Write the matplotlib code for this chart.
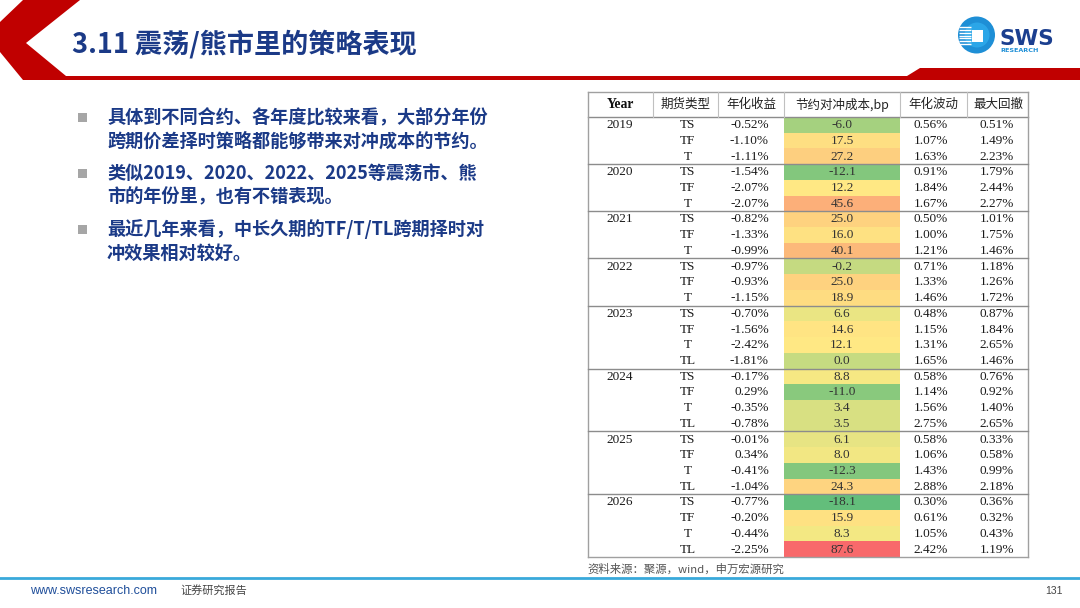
import numpy as np
import matplotlib
matplotlib.use("Agg")
import matplotlib.pyplot as plt
from matplotlib.patches import Polygon, Rectangle, Circle
from matplotlib.colors import LinearSegmentedColormap, TwoSlopeNorm

plt.rcParams['font.family'] = ['Noto Sans CJK SC', 'DejaVu Sans']

# ---------------- data ----------------
title = "3.11 震荡/熊市里的策略表现"
bullets = [
    ["具体到不同合约、各年度比较来看，大部分年份", "跨期价差择时策略都能够带来对冲成本的节约。"],
    ["类似2019、2020、2022、2025等震荡市、熊", "市的年份里，也有不错表现。"],
    ["最近几年来看，中长久期的TF/T/TL跨期择时对", "冲效果相对较好。"],
]
headers = ["Year", "期货类型", "年化收益", "节约对冲成本,bp", "年化波动", "最大回撤"]
years = ["2019", "2020", "2021", "2022", "2023", "2024", "2025", "2026"]
contracts_per_year = [["TS", "TF", "T"]] * 4 + [["TS", "TF", "T", "TL"]] * 4
ann_ret = [-0.52, -1.10, -1.11, -1.54, -2.07, -2.07, -0.82, -1.33, -0.99,
           -0.97, -0.93, -1.15, -0.70, -1.56, -2.42, -1.81, -0.17, 0.29,
           -0.35, -0.78, -0.01, 0.34, -0.41, -1.04, -0.77, -0.20, -0.44, -2.25]
saving_bp = [-6.0, 17.5, 27.2, -12.1, 12.2, 45.6, 25.0, 16.0, 40.1,
             -0.2, 25.0, 18.9, 6.6, 14.6, 12.1, 0.0, 8.8, -11.0,
             3.4, 3.5, 6.1, 8.0, -12.3, 24.3, -18.1, 15.9, 8.3, 87.6]
ann_vol = [0.56, 1.07, 1.63, 0.91, 1.84, 1.67, 0.50, 1.00, 1.21,
           0.71, 1.33, 1.46, 0.48, 1.15, 1.31, 1.65, 0.58, 1.14,
           1.56, 2.75, 0.58, 1.06, 1.43, 2.88, 0.30, 0.61, 1.05, 2.42]
max_dd = [0.51, 1.49, 2.23, 1.79, 2.44, 2.27, 1.01, 1.75, 1.46,
          1.18, 1.26, 1.72, 0.87, 1.84, 2.65, 1.46, 0.76, 0.92,
          1.40, 2.65, 0.33, 0.58, 0.99, 2.18, 0.36, 0.32, 0.43, 1.19]
source = "资料来源：聚源，wind，申万宏源研究"
footer_url = "www.swsresearch.com"
footer_label = "证券研究报告"
page_no = "131"

# ---------------- figure ----------------
W, H = 1080, 608
fig = plt.figure(figsize=(W / 100, H / 100), dpi=100)
ax = fig.add_axes([0, 0, 1, 1])
ax.set_xlim(0, W)
ax.set_ylim(H, 0)
ax.axis('off')

RED = '#C00000'
NAVY = '#1B3A87'

# header band with chevron
ax.add_patch(Polygon([(23, 0), (80, 0), (26, 43), (66, 76), (907, 76), (920, 68),
                      (1080, 68), (1080, 80), (23, 80), (0, 52), (0, 22)],
                     closed=True, fc=RED, ec='none'))
ax.text(72, 44, title, fontsize=19.5, fontweight='bold', color=NAVY, va='center', ha='left')

# logo
ax.add_patch(Circle((976.5, 35), 18.5, fc='#1E8FD6', ec='none'))
ax.add_patch(Circle((977, 35), 12.5, fc='#2BA6E8', ec='none'))
ax.add_patch(Rectangle((972, 29.5), 11, 12, fc='white', ec='none'))
for yy in np.linspace(27, 44, 7):
    ax.plot([959, 971], [yy, yy], color='white', lw=1.0, solid_capstyle='butt')
ax.text(999.5, 45, "SWS", fontsize=15.5, fontweight='bold', color='#1B3F8F',
        ha='left', va='baseline', family=['DejaVu Sans'])
ax.text(1000.5, 50, "RESEARCH", fontsize=4.6, fontweight='bold', color='#1E8FD6',
        ha='left', va='center', family=['DejaVu Sans'])

# bullets
by = 117
for lines in bullets:
    ax.add_patch(Rectangle((78, by - 4.5), 9, 9, fc='#A6A6A6', ec='none'))
    for j, ln in enumerate(lines):
        ax.text(107, by + j * 24, ln, fontsize=13.1, fontweight='bold', color=NAVY,
                ha='left', va='center')
    by += 56

# ---------------- table ----------------
rows_year, rows_con = [], []
for y, cons in zip(years, contracts_per_year):
    for i, c in enumerate(cons):
        rows_year.append(y if i == 0 else "")
        rows_con.append(c)
n = len(rows_con)

tx0, tx1 = 588, 1028
ty0 = 92
head_h = 25
row_h = 15.72
col_edges = [588, 653, 718, 784, 900, 967, 1028]
row_top = ty0 + head_h
edges = row_top + np.arange(n + 1) * row_h
ty1 = edges[-1]

cmap = LinearSegmentedColormap.from_list('rdylgn_xl', ['#63BE7B', '#FFEB84', '#F8696B'])
norm = TwoSlopeNorm(vmin=min(saving_bp), vcenter=float(np.median(saving_bp)), vmax=max(saving_bp))
X, Y = np.meshgrid([col_edges[3], col_edges[4]], edges)
ax.pcolormesh(X, Y, np.array(saving_bp).reshape(-1, 1), cmap=cmap, norm=norm,
              shading='flat', edgecolors='none', zorder=1)

# lines
LC = '#8C8C8C'
ax.plot([tx0, tx1], [ty0, ty0], color='#A0A0A0', lw=1.0, zorder=3)
ax.plot([tx0, tx1], [row_top, row_top], color=LC, lw=1.0, zorder=3)
ax.plot([tx0, tx1], [ty1, ty1], color='#A0A0A0', lw=1.0, zorder=3)
ax.plot([tx0, tx0], [ty0, ty1], color='#A0A0A0', lw=1.0, zorder=3)
ax.plot([tx1, tx1], [ty0, ty1], color='#A0A0A0', lw=1.0, zorder=3)
for xe in col_edges[1:-1]:
    ax.plot([xe, xe], [ty0, row_top], color='#C0C0C0', lw=0.8, zorder=3)
k = 0
for cons in contracts_per_year[:-1]:
    k += len(cons)
    ax.plot([tx0, tx1], [edges[k], edges[k]], color=LC, lw=1.0, zorder=3)

# headers
hy = ty0 + head_h / 2
hx = [620, 686, 751, 842, 933, 998]
for i, (x, h) in enumerate(zip(hx, headers)):
    if i == 0:
        ax.text(x, hy, h, fontsize=9.8, fontweight='bold', family=['Liberation Serif'],
                ha='center', va='center', color='#111111', zorder=4)
    else:
        ax.text(x, hy, h, fontsize=9, ha='center', va='center', color='#222222', zorder=4)

SERIF = ['Liberation Serif']
TC = '#1A1A1A'
FS = 9.5
for r in range(n):
    yc = (edges[r] + edges[r + 1]) / 2 + 0.3
    if rows_year[r]:
        ax.text(620, yc, rows_year[r], fontsize=FS, family=SERIF, ha='center', va='center', color=TC, zorder=4)
    ax.text(688, yc, rows_con[r], fontsize=FS, family=SERIF, ha='center', va='center', color=TC, zorder=4)
    ax.text(769, yc, f"{ann_ret[r]:.2f}%", fontsize=FS, family=SERIF, ha='right', va='center', color=TC, zorder=4)
    ax.text(842, yc, f"{saving_bp[r]:.1f}", fontsize=FS, family=SERIF, ha='center', va='center', color='#333333', zorder=4)
    ax.text(948, yc, f"{ann_vol[r]:.2f}%", fontsize=FS, family=SERIF, ha='right', va='center', color=TC, zorder=4)
    ax.text(1014, yc, f"{max_dd[r]:.2f}%", fontsize=FS, family=SERIF, ha='right', va='center', color=TC, zorder=4)

# source
ax.text(587, 569, source, fontsize=8.2, color='#555555', ha='left', va='center')

# footer
ax.plot([0, W], [577.5, 577.5], color='#39A9DB', lw=2.0)
ax.text(30, 591, footer_url, fontsize=9, color='#1F4E9A', ha='left', va='center', family=['Liberation Sans'])
ax.text(180, 590, footer_label, fontsize=8, color='#444444', ha='left', va='center')
ax.text(1063, 591, page_no, fontsize=7.5, color='#444444', ha='right', va='center', family=['Liberation Sans'])

fig.savefig("out.png", dpi=100, facecolor='white')
